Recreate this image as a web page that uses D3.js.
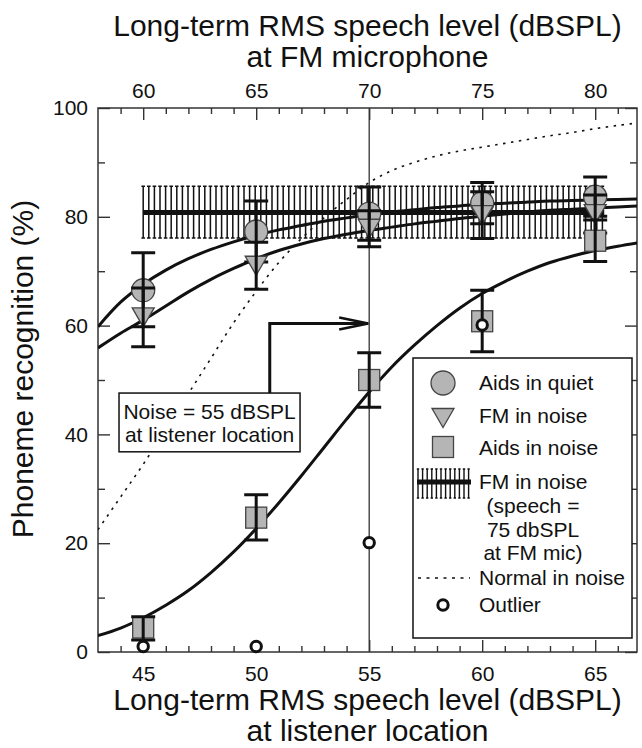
<!DOCTYPE html>
<html><head><meta charset="utf-8">
<script src="https://cdn.jsdelivr.net/npm/d3@7"></script>
<style>
html,body{margin:0;padding:0;background:#fff;}
svg{display:block;}
</style></head><body>
<svg id="chart" width="642" height="748"></svg>
<script>
// ---------- data ----------
const levels = [45, 50, 55, 60, 65];
const aidsQuiet   = [66.5, 77.3, 80.6, 82.5, 83.7];
const aidsQuietLo = [59.8, 71.7, 75.7, 78.7, 80.1];
const aidsQuietHi = [73.4, 82.9, 85.5, 86.3, 87.3];
const fmNoise   = [61.5, 71.0, 77.8, 80.3, 80.5];
const fmNoiseLo = [56.1, 66.7, 74.5, 76.0, 77.0];
const fmNoiseHi = [66.9, 75.3, 81.1, 84.6, 84.0];
const aidsNoise   = [4.5, 24.7, 50.0, 60.8, 75.6];
const aidsNoiseLo = [2.2, 20.6, 45.0, 55.2, 71.8];
const aidsNoiseHi = [6.5, 28.9, 55.0, 66.5, 79.4];
const outlierLevels = [45, 50, 55, 60];
const outlierValues = [1.0, 1.0, 20.1, 60.1];
// FM in noise, speech = 75 dBSPL at FM mic (horizontal band)
const fmBandRange = [45, 65.4];
const fmBandValue = 80.8;
const fmBandLo = 76.1;
const fmBandHi = 85.6;
// fitted curves and normal-hearing reference
const curveLevels = [43,44,45,46,47,48,49,50,51,52,53,54,55,56,57,58,59,60,61,62,63,64,65,66,67];
const fitQuiet = [59.8,64.3,67.6,70.2,72.3,74.0,75.4,76.6,77.6,78.4,79.2,79.8,80.4,80.9,81.3,81.7,82.0,82.3,82.5,82.7,82.9,83.0,83.1,83.2,83.3];
const fitFm    = [55.9,58.6,61.0,63.6,66.2,68.5,70.5,72.3,73.8,75.0,76.0,76.8,77.5,78.1,78.7,79.2,79.7,80.1,80.5,80.9,81.2,81.4,81.6,81.8,82.0];
const fitNoise = [3.0,4.4,6.3,8.6,11.3,14.6,18.4,22.7,27.4,32.4,37.6,42.8,47.8,52.4,56.4,60.0,63.2,65.9,68.1,70.0,71.6,72.8,73.8,74.6,75.3];
const normalNoise = [22.5,28.5,34.5,41,47.5,54,60.5,66.3,71.6,76,79.8,83.2,86.3,88.5,90,91.2,92.1,92.8,93.5,94.2,94.9,95.5,96.2,96.8,97.3];
// axes
const bottomTicks = [45, 50, 55, 60, 65];
const topTicks = [60, 65, 70, 75, 80];
const yTicks = [0, 20, 40, 60, 80, 100];
const yMinorTicks = [10, 30, 50, 70, 90];
const xDomain = [43, 66.85];
const topDomain = [58, 81.85];
const noiseLevel = 55;
const arrowLevel = 50.6, arrowValue = 60.4;
const noteBox = [43.93, 51.94, 47.6, 36.8];
const titleTop = ["Long-term RMS speech level (dBSPL)", "at FM microphone"];
const titleBottom = ["Long-term RMS speech level (dBSPL)", "at listener location"];
const titleY = "Phoneme recognition (%)";
const noteText = ["Noise = 55 dBSPL", "at listener location"];
const legendLabels = ["Aids in quiet", "FM in noise", "Aids in noise", "FM in noise", "(speech =", "75 dbSPL", "at FM mic)", "Normal in noise", "Outlier"];

// ---------- layout ----------
const FONT = '"Liberation Sans", Arial, Helvetica, sans-serif';
const L = 98, R = 637, T = 108, B = 652;
const GRAY = "#b5b5b5", INK = "#111", AX = "#333";

const svg = d3.select("#chart").attr("font-family", FONT);
const x = d3.scaleLinear().domain(xDomain).range([L, R]);
const xTop = d3.scaleLinear().domain(topDomain).range([L, R]);
const y = d3.scaleLinear().domain([0, 100]).range([B, T]);

svg.append("defs").append("clipPath").attr("id", "plotclip")
  .append("rect").attr("x", L).attr("y", T).attr("width", R - L).attr("height", B - T);

// ---------- axes ----------
function styleAxis(g, fs) {
  g.attr("font-family", FONT).attr("font-size", fs);
  g.select(".domain").remove();
  g.selectAll(".tick line").attr("stroke", AX).attr("stroke-width", 1.4);
  g.selectAll(".tick text").attr("fill", INK);
}
const xMinor = d3.range(44, 67).filter(v => v % 5 !== 0);
const topMinor = d3.range(59, 82).filter(v => v % 5 !== 0);

svg.append("g").attr("transform", `translate(0,${B})`)
  .call(d3.axisBottom(x).tickValues(bottomTicks).tickSizeInner(-12).tickSizeOuter(0).tickPadding(14).tickFormat(d3.format("d")))
  .call(g => styleAxis(g, 21));
svg.append("g").attr("transform", `translate(0,${B})`)
  .call(d3.axisBottom(x).tickValues(xMinor).tickSizeInner(-6).tickSizeOuter(0).tickFormat(""))
  .call(g => styleAxis(g, 21));
svg.append("g").attr("transform", `translate(0,${T})`)
  .call(d3.axisTop(xTop).tickValues(topTicks).tickSizeInner(-12).tickSizeOuter(0).tickPadding(10).tickFormat(d3.format("d")))
  .call(g => styleAxis(g, 21));
svg.append("g").attr("transform", `translate(0,${T})`)
  .call(d3.axisTop(xTop).tickValues(topMinor).tickSizeInner(-6).tickSizeOuter(0).tickFormat(""))
  .call(g => styleAxis(g, 21));
svg.append("g").attr("transform", `translate(${L},0)`)
  .call(d3.axisLeft(y).tickValues(yTicks).tickSizeInner(-12).tickSizeOuter(0).tickPadding(10).tickFormat(d3.format("d")))
  .call(g => styleAxis(g, 21));
svg.append("g").attr("transform", `translate(${L},0)`)
  .call(d3.axisLeft(y).tickValues(yMinorTicks).tickSizeInner(-7).tickSizeOuter(0).tickFormat(""))
  .call(g => styleAxis(g, 21));
svg.append("g").attr("transform", `translate(${R},0)`)
  .call(d3.axisRight(y).tickValues(yTicks).tickSizeInner(-12).tickSizeOuter(0).tickFormat(""))
  .call(g => styleAxis(g, 21));
svg.append("g").attr("transform", `translate(${R},0)`)
  .call(d3.axisRight(y).tickValues(yMinorTicks).tickSizeInner(-7).tickSizeOuter(0).tickFormat(""))
  .call(g => styleAxis(g, 21));

svg.append("rect").attr("x", L).attr("y", T).attr("width", R - L).attr("height", B - T)
  .attr("fill", "none").attr("stroke", AX).attr("stroke-width", 1.5);

// titles
const cx = (L + R) / 2;
svg.append("text").attr("x", cx).attr("y", 36).attr("text-anchor", "middle").attr("font-size", 30).attr("fill", INK).text(titleTop[0]);
svg.append("text").attr("x", cx).attr("y", 67).attr("text-anchor", "middle").attr("font-size", 30).attr("fill", INK).text(titleTop[1]);
svg.append("text").attr("x", cx).attr("y", 710).attr("text-anchor", "middle").attr("font-size", 30).attr("fill", INK).text(titleBottom[0]);
svg.append("text").attr("x", cx).attr("y", 741).attr("text-anchor", "middle").attr("font-size", 30).attr("fill", INK).text(titleBottom[1]);
svg.append("text").attr("transform", `translate(33,${(T + B) / 2 - 11}) rotate(-90)`)
  .attr("text-anchor", "middle").attr("font-size", 30).attr("fill", INK).text(titleY);

// ---------- plot content ----------
const plot = svg.append("g").attr("clip-path", "url(#plotclip)");

// vertical reference line at noise level
plot.append("line").attr("x1", x(noiseLevel)).attr("x2", x(noiseLevel)).attr("y1", T).attr("y2", B)
  .attr("stroke", AX).attr("stroke-width", 1.3);

// FM band: dense error-bar hatching + thick line
const bandPx = d3.range(x(fmBandRange[0]), x(fmBandRange[1]) + 0.1, 5.6);
const hatch = plot.append("g").attr("stroke", INK).attr("stroke-width", 1.5).attr("fill", "none");
bandPx.forEach(px => {
  const y1 = y(fmBandHi), y2 = y(fmBandLo);
  hatch.append("path").attr("d", `M${px - 1.8},${y1}H${px + 1.8}M${px},${y1}V${y2}M${px - 1.8},${y2}H${px + 1.8}`);
});
plot.append("line").attr("x1", x(fmBandRange[0])).attr("x2", x(fmBandRange[1]))
  .attr("y1", y(fmBandValue)).attr("y2", y(fmBandValue)).attr("stroke", INK).attr("stroke-width", 5);

// curves
const line = d3.line().x((d, i) => x(curveLevels[i])).y(d => y(d)).curve(d3.curveCatmullRom);
plot.append("path").attr("d", line(normalNoise)).attr("fill", "none").attr("stroke", INK)
  .attr("stroke-width", 1.6).attr("stroke-dasharray", "2.5,5.5");
[fitQuiet, fitFm, fitNoise].forEach(c => {
  plot.append("path").attr("d", line(c)).attr("fill", "none").attr("stroke", INK).attr("stroke-width", 3);
});

// marker helpers
function circleMark(g, px, py, r) {
  g.append("circle").attr("cx", px).attr("cy", py).attr("r", r).attr("fill", GRAY).attr("stroke", "#444").attr("stroke-width", 1.3);
}
function triMark(g, px, py, w, h) {
  g.append("path").attr("d", `M${px - w / 2},${py - h / 2}L${px + w / 2},${py - h / 2}L${px},${py + h / 2}Z`)
    .attr("fill", GRAY).attr("stroke", "#444").attr("stroke-width", 1.3).attr("stroke-linejoin", "miter");
}
function sqMark(g, px, py, s) {
  g.append("rect").attr("x", px - s / 2).attr("y", py - s / 2).attr("width", s).attr("height", s)
    .attr("fill", GRAY).attr("stroke", "#444").attr("stroke-width", 1.3);
}
function errBar(g, px, lo, hi) {
  g.append("path").attr("d", `M${px - 12},${y(hi)}H${px + 12}M${px},${y(hi)}V${y(lo)}M${px - 12},${y(lo)}H${px + 12}`)
    .attr("stroke", INK).attr("stroke-width", 3).attr("fill", "none");
}

const marks = svg.append("g");
levels.forEach((lv, i) => circleMark(marks, x(lv), y(aidsQuiet[i]), 11.5));
levels.forEach((lv, i) => errBar(marks, x(lv), aidsQuietLo[i], aidsQuietHi[i]));
levels.forEach((lv, i) => triMark(marks, x(lv), y(fmNoise[i]), 22, 19));
levels.forEach((lv, i) => errBar(marks, x(lv), fmNoiseLo[i], fmNoiseHi[i]));
levels.forEach((lv, i) => sqMark(marks, x(lv), y(aidsNoise[i]), 21));
levels.forEach((lv, i) => errBar(marks, x(lv), aidsNoiseLo[i], aidsNoiseHi[i]));
outlierLevels.forEach((lv, i) => {
  marks.append("circle").attr("cx", x(lv)).attr("cy", y(outlierValues[i])).attr("r", 5.2)
    .attr("fill", "#fff").attr("stroke", INK).attr("stroke-width", 3);
});

// ---------- annotation ----------
const bx0 = x(noteBox[0]), bx1 = x(noteBox[1]), by0 = y(noteBox[2]), by1 = y(noteBox[3]);
svg.append("path")
  .attr("d", `M${x(arrowLevel)},${by0}V${y(arrowValue)}H${x(noiseLevel) - 1}`)
  .attr("fill", "none").attr("stroke", INK).attr("stroke-width", 3);
svg.append("path")
  .attr("d", `M${x(noiseLevel) - 30},${y(arrowValue) - 6}L${x(noiseLevel) - 1},${y(arrowValue)}L${x(noiseLevel) - 30},${y(arrowValue) + 6}`)
  .attr("fill", "none").attr("stroke", INK).attr("stroke-width", 2.6);
svg.append("rect").attr("x", bx0).attr("y", by0).attr("width", bx1 - bx0).attr("height", by1 - by0)
  .attr("fill", "#fff").attr("stroke", INK).attr("stroke-width", 1.5);
svg.append("text").attr("x", (bx0 + bx1) / 2).attr("y", by0 + 26).attr("text-anchor", "middle").attr("font-size", 21).attr("fill", INK).text(noteText[0]);
svg.append("text").attr("x", (bx0 + bx1) / 2).attr("y", by0 + 49).attr("text-anchor", "middle").attr("font-size", 21).attr("fill", INK).text(noteText[1]);

// ---------- legend ----------
const lg = svg.append("g");
const LX0 = 413, LY0 = 358, LX1 = 632, LY1 = 638;
lg.append("rect").attr("x", LX0).attr("y", LY0).attr("width", LX1 - LX0).attr("height", LY1 - LY0)
  .attr("fill", "#fff").attr("stroke", INK).attr("stroke-width", 1.5);
const symX = 443, txtX = 479;
circleMark(lg, symX, 383, 12);
triMark(lg, symX, 418, 22, 19);
sqMark(lg, symX, 447, 21);
// FM band symbol
const lh = lg.append("g").attr("stroke", INK).attr("stroke-width", 1.4).attr("fill", "none");
d3.range(418, 471, 4.6).forEach(px => {
  lh.append("path").attr("d", `M${px - 1.2},469H${px + 1.2}M${px},469V498M${px - 1.2},498H${px + 1.2}`);
});
lg.append("line").attr("x1", 417).attr("x2", 471).attr("y1", 482).attr("y2", 482).attr("stroke", INK).attr("stroke-width", 5);
lg.append("line").attr("x1", 418).attr("x2", 470).attr("y1", 578).attr("y2", 578).attr("stroke", INK)
  .attr("stroke-width", 1.6).attr("stroke-dasharray", "3,5.5");
lg.append("circle").attr("cx", symX).attr("cy", 605).attr("r", 5.2).attr("fill", "#fff").attr("stroke", INK).attr("stroke-width", 3);

const lgText = [
  [legendLabels[0], txtX, 390, "start"],
  [legendLabels[1], txtX, 423, "start"],
  [legendLabels[2], txtX, 455, "start"],
  [legendLabels[3], txtX, 489, "start"],
  [legendLabels[4], 533, 513, "middle"],
  [legendLabels[5], 533, 537, "middle"],
  [legendLabels[6], 533, 560, "middle"],
  [legendLabels[7], txtX, 585, "start"],
  [legendLabels[8], txtX, 612, "start"]
];
lgText.forEach(([t, tx, ty, a]) => {
  lg.append("text").attr("x", tx).attr("y", ty).attr("text-anchor", a).attr("font-size", 21).attr("fill", INK).text(t);
});
</script>
</body></html>
